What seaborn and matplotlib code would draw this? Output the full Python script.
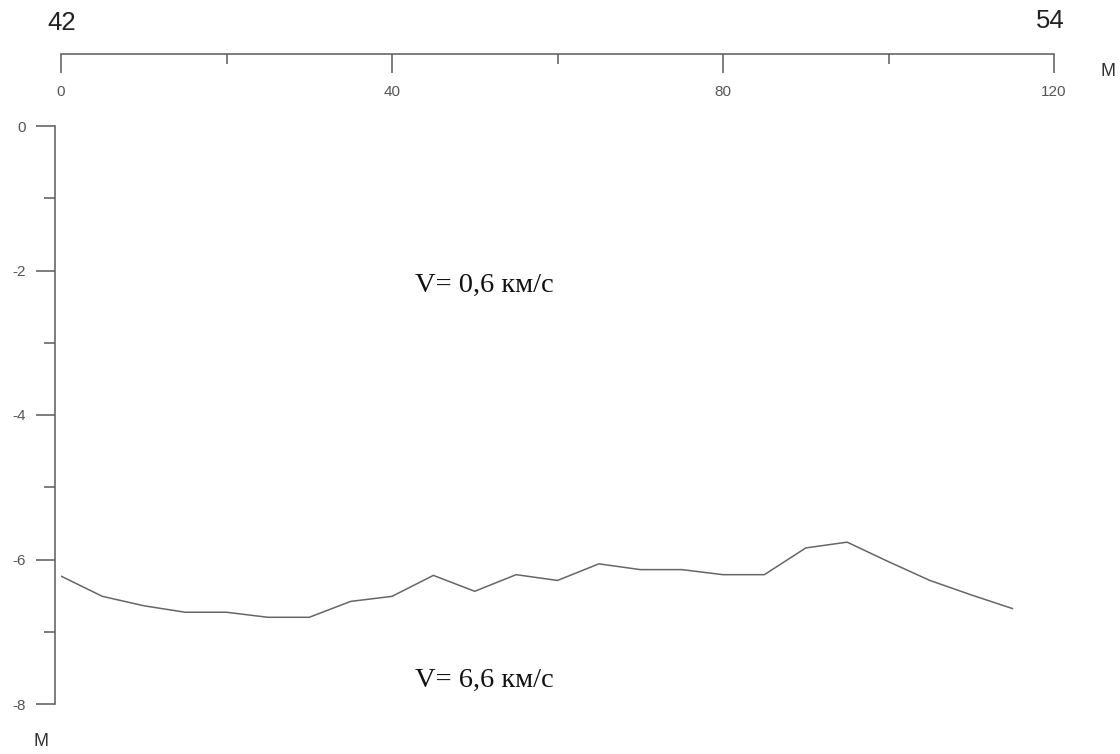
import numpy as np
import pandas as pd
import matplotlib
matplotlib.use("Agg")
import matplotlib.pyplot as plt
from matplotlib.ticker import MultipleLocator
import seaborn as sns

# ---- data ----
distance = [0, 5, 10, 15, 20, 25, 30, 35, 40, 45, 50, 55,
            60, 65, 70, 75, 80, 85, 90, 95, 100, 105, 110, 115]
depth = [-6.23, -6.51, -6.64, -6.73, -6.73, -6.80, -6.80, -6.58, -6.51, -6.22, -6.44, -6.21,
         -6.29, -6.06, -6.14, -6.14, -6.21, -6.21, -5.84, -5.76, -6.03, -6.29, -6.49, -6.68]
x_major_ticks = [0, 40, 80, 120]
y_major_ticks = [0, -2, -4, -6, -8]
picket_labels = ["42", "54"]
unit_label = "M"
velocity_labels = ["V= 0,6 км/с", "V= 6,6 км/с"]
velocity_label_pos = [(51.2, -2.21), (51.2, -7.68)]

sns.set_style("white")
plt.rcParams["font.family"] = ["Liberation Sans", "DejaVu Sans"]
plt.rcParams["axes.unicode_minus"] = False

W, H = 1120, 754
fig = plt.figure(figsize=(W / 100, H / 100), dpi=100)
L, R = 61 / W, 1054 / W

axis_col = "#5a5a5a"
label_col = "#555555"

# main profile axes
ax = fig.add_axes([L, (H - 704) / H, R - L, (704 - 126) / H])
df = pd.DataFrame({"distance": distance, "depth": depth})
sns.lineplot(data=df, x="distance", y="depth", ax=ax, color="#666666", linewidth=1.1)
ax.set_xlim(0, 120)
ax.set_ylim(-8, 0)
for s in ["top", "right", "bottom"]:
    ax.spines[s].set_visible(False)
ax.spines["left"].set_position(("outward", 4.3))
ax.spines["left"].set_color(axis_col)
ax.spines["left"].set_linewidth(1.1)
ax.set_xticks([])
ax.set_yticks(y_major_ticks)
ax.set_yticklabels([str(v) for v in y_major_ticks])
ax.yaxis.set_minor_locator(MultipleLocator(1))
ax.tick_params(axis="y", which="major", direction="out", length=13.7, width=1.1,
               color=axis_col, pad=7, labelsize=11, labelcolor=label_col, left=True)
ax.tick_params(axis="y", which="minor", direction="out", length=8, width=1.1,
               color=axis_col, left=True)
ax.set_xlabel("")
ax.set_ylabel("")

for (tx, ty), lab in zip(velocity_label_pos, velocity_labels):
    ax.text(tx, ty, lab, ha="center", va="center", fontsize=20.5,
            family=["Liberation Serif", "DejaVu Serif"], color="#111111")

# top distance scale
axt = fig.add_axes([L, (H - 54) / H, R - L, 0.001])
axt.set_facecolor("none")
for s in ["top", "right", "left"]:
    axt.spines[s].set_visible(False)
axt.spines["bottom"].set_color(axis_col)
axt.spines["bottom"].set_linewidth(1.1)
axt.set_xlim(0, 120)
axt.set_yticks([])
axt.set_xticks(x_major_ticks)
axt.set_xticklabels([str(v) for v in x_major_ticks])
axt.xaxis.set_minor_locator(MultipleLocator(20))
axt.tick_params(axis="x", which="major", direction="out", length=13.7, width=1.1,
                color=axis_col, pad=8.3, labelsize=11, labelcolor=label_col, bottom=True)
axt.tick_params(axis="x", which="minor", direction="out", length=7.2, width=1.1,
                color=axis_col, bottom=True)

# picket numbers and unit labels
fig.text(62 / W, 1 - 23 / H, picket_labels[0], ha="center", va="center",
         fontsize=18.5, color="#222222")
fig.text(1050 / W, 1 - 21 / H, picket_labels[1], ha="center", va="center",
         fontsize=18.5, color="#222222")
fig.text(1108 / W, 1 - 72 / H, unit_label, ha="center", va="center",
         fontsize=13, color="#333333")
fig.text(41 / W, 1 - 741 / H, unit_label, ha="center", va="center",
         fontsize=13, color="#333333")

fig.savefig("out.png", dpi=100, facecolor="white")
